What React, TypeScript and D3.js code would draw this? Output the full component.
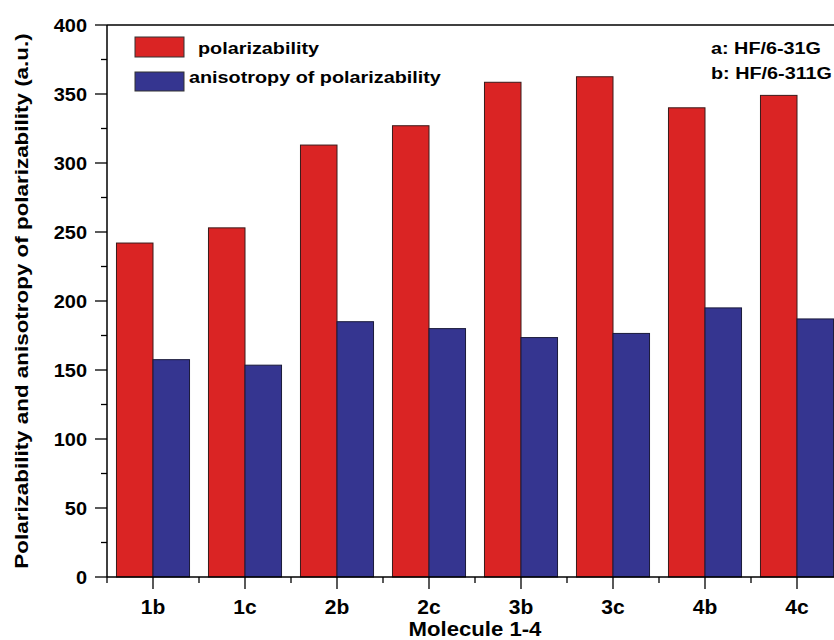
import React from 'react';
import * as d3 from 'd3';

const categories = ['1b', '1c', '2b', '2c', '3b', '3c', '4b', '4c'];
const polarizability = [242, 253, 313, 327, 358.5, 362.5, 340, 349];
const anisotropy = [157.5, 153.5, 185, 180, 173.5, 176.5, 195, 187];
const yTicks = [0, 50, 100, 150, 200, 250, 300, 350, 400];
const yMinorTicks = [25, 75, 125, 175, 225, 275, 325, 375];
const seriesNames = ['polarizability', 'anisotropy of polarizability'];
const methodNotes = ['a: HF/6-31G', 'b: HF/6-311G'];

const RED = '#da2424';
const BLUE = '#353590';
const FONT = '"Liberation Sans", Arial, sans-serif';

// text stretched horizontally, the original figure's labels are wider than plain Arial
const T = ({ x, y, sx = 1, rot = 0, anchor = 'start', size, children }: any) => (
  <text transform={`translate(${x},${y}) rotate(${rot}) scale(${sx},1)`} textAnchor={anchor}
        fontSize={size} fontWeight="bold">{children}</text>
);

const App = () => {
  const width = 834, height = 640;
  const left = 107, right = 843, top = 25, bottom = 577;

  const x = d3.scaleBand<string>().domain(categories).range([left, right]);
  const y = d3.scaleLinear().domain([0, 400]).range([bottom, top]);
  const barW = x.step() * 0.397;
  const center = (c: string) => (x(c) as number) + x.bandwidth() / 2;

  const boundaries = d3.range(categories.length + 1).map(i => left + i * x.step());

  return (
    <svg width={width} height={height} style={{ position: 'absolute', left: 0, top: 0 }} fontFamily={FONT}>
      <rect width={width} height={height} fill="#fff" />

      {/* bars */}
      {categories.map((c, i) => (
        <g key={c}>
          <rect x={center(c) - barW} y={y(polarizability[i])} width={barW}
                height={bottom - y(polarizability[i])} fill={RED} stroke="#3a1a1a" strokeWidth={1} />
          <rect x={center(c)} y={y(anisotropy[i])} width={barW}
                height={bottom - y(anisotropy[i])} fill={BLUE} stroke="#1a1a3a" strokeWidth={1} />
        </g>
      ))}

      {/* frame */}
      <line x1={left} x2={left} y1={top} y2={bottom} stroke="#000" strokeWidth={1.5} />
      <line x1={left} x2={right} y1={bottom} y2={bottom} stroke="#000" strokeWidth={1.5} />
      <line x1={left} x2={right} y1={top} y2={top} stroke="#000" strokeWidth={1.5} />

      {/* y ticks */}
      {yTicks.map(t => (
        <g key={t}>
          <line x1={left - 12} x2={left} y1={y(t)} y2={y(t)} stroke="#000" strokeWidth={1.3} />
          <T x={left - 20} y={y(t) + 6.5} anchor="end" size={18.5} sx={1.08}>{t}</T>
        </g>
      ))}
      {yMinorTicks.map(t => (
        <line key={t} x1={left - 6} x2={left} y1={y(t)} y2={y(t)} stroke="#000" strokeWidth={1.3} />
      ))}

      {/* x ticks */}
      {categories.map(c => (
        <g key={c}>
          <line x1={center(c)} x2={center(c)} y1={bottom} y2={bottom + 12} stroke="#000" strokeWidth={1.3} />
          <T x={center(c)} y={614} anchor="middle" size={21}>{c}</T>
        </g>
      ))}
      {boundaries.map(b => (
        <line key={b} x1={b} x2={b} y1={bottom} y2={bottom + 6} stroke="#000" strokeWidth={1.3} />
      ))}

      {/* axis titles */}
      <T x={475} y={636} anchor="middle" size={20.5} sx={1.08}>Molecule 1-4</T>
      <T x={28} y={(top + bottom) / 2} rot={-90} anchor="middle" size={19} sx={1.18}>
        Polarizability and anisotropy of polarizability (a.u.)
      </T>

      {/* legend */}
      <rect x={135} y={37} width={49} height={20} fill={RED} stroke="#333" strokeWidth={1} />
      <T x={198} y={54} size={16.5} sx={1.2}>{seriesNames[0]}</T>
      <rect x={135} y={72} width={49} height={19} fill={BLUE} stroke="#333" strokeWidth={1} />
      <T x={189} y={83} size={16.5} sx={1.2}>{seriesNames[1]}</T>

      {methodNotes.map((n, i) => (
        <T key={n} x={711} y={54 + i * 25} size={16.5} sx={1.2}>{n}</T>
      ))}
    </svg>
  );
};

export default App;
